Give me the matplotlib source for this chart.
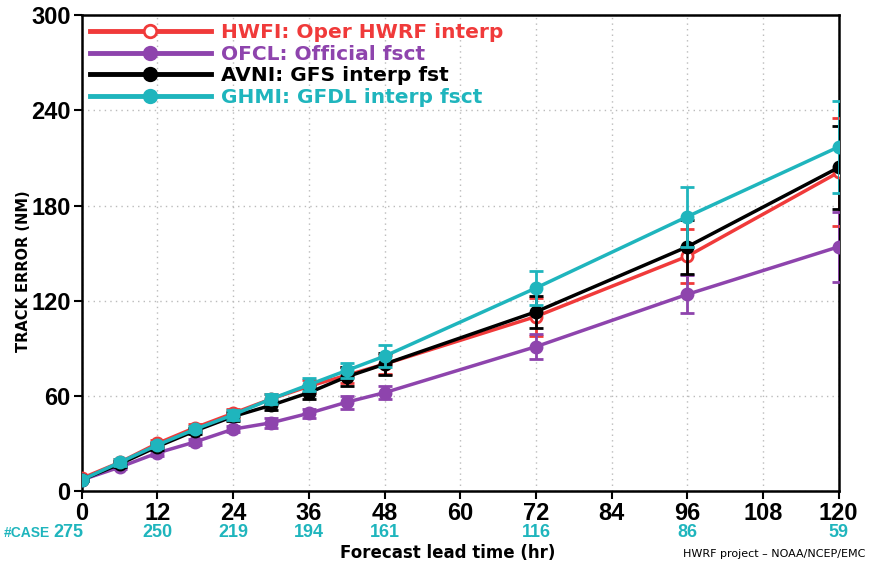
import numpy as np
from matplotlib import pyplot as plt
from matplotlib.lines import Line2D

# forecast hours and mean track errors (NM)
hours = [0, 6, 12, 18, 24, 30, 36, 42, 48, 72, 96, 120]

hwfi = [8, 18, 30, 40, 49, 58, 66, 73, 80, 110, 148, 201]
ofcl = [7, 15, 24, 31, 39, 43, 49, 56, 62, 91, 124, 154]
avni = [7, 17, 28, 38, 47, 54, 62, 72, 80, 113, 154, 204]
ghmi = [7, 18, 29, 39, 48, 58, 67, 76, 85, 128, 173, 217]

# error bar half widths
hwfi_err = [1, 2, 2, 2, 3, 3, 4, 5, 6, 12, 17, 34]
ofcl_err = [1, 1, 2, 2, 2, 3, 3, 4, 4, 8, 12, 22]
avni_err = [1, 2, 2, 2, 3, 3, 4, 6, 7, 10, 17, 26]
ghmi_err = [1, 2, 2, 2, 3, 3, 4, 5, 7, 11, 19, 29]

case_hours = [0, 12, 24, 36, 48, 72, 96, 120]
case_counts = ['275', '250', '219', '194', '161', '116', '86', '59']

labels = ['HWFI: Oper HWRF interp', 'OFCL: Official fsct',
          'AVNI: GFS interp fst', 'GHMI: GFDL interp fsct']
colors = ['#f03a3a', '#8e44ad', '#000000', '#1fb5bd']
narrow = ['Liberation Sans', 'DejaVu Sans']

fig = plt.figure(figsize=(8.7, 5.65), dpi=100)
ax = fig.add_axes([0.094, 0.131, 0.870, 0.842])

series = [(hwfi, hwfi_err), (ofcl, ofcl_err), (avni, avni_err), (ghmi, ghmi_err)]
handles = []
for i, (vals, err) in enumerate(series):
    face = 'white' if i == 0 else colors[i]
    ax.errorbar(hours, vals, yerr=err, color=colors[i], lw=2.5, marker='o',
                ms=8, mfc=face, mec=colors[i], mew=2, capsize=5, capthick=2,
                elinewidth=2, zorder=3 + i)
    handles.append(Line2D([], [], color=colors[i], lw=3.5, marker='o', ms=9,
                          mfc=face, mec=colors[i], mew=2, label=labels[i]))

ax.set_xlim(0, 120)
ax.set_ylim(0, 300)
ax.set_xticks(range(0, 121, 12))
ax.set_yticks(range(0, 301, 60))
ax.grid(True, color='#bbbbbb', linestyle=(0, (1, 3)), lw=1)
ax.tick_params(direction='out', length=6, width=1.5, labelsize=17, pad=2)
for lab in ax.get_xticklabels() + ax.get_yticklabels():
    lab.set_fontweight('bold')
    lab.set_family(narrow)
for sp in ax.spines.values():
    sp.set_linewidth(1.8)

leg = ax.legend(handles=handles, loc='upper left', frameon=False,
                handlelength=6.0, borderaxespad=0.3, borderpad=0.1,
                labelspacing=0.12, handletextpad=0.5,
                prop={'weight': 'bold', 'size': 14.5})
for txt, c in zip(leg.get_texts(), colors):
    txt.set_color(c)

# number of cases under the axis
fig.text(0.004, 0.057, '#CASE', ha='left', va='center', color=colors[3],
         fontsize=10, fontweight='bold', family=narrow)
for h, n in zip(case_hours, case_counts):
    ha = 'right' if h == 0 else 'center'
    xpos = 0.3 if h == 0 else h
    ax.text(xpos, -0.088, n, transform=ax.get_xaxis_transform(),
            ha=ha, va='center', color=colors[3], fontsize=13,
            fontweight='bold', family=narrow)

fig.text(0.515, 0.022, 'Forecast lead time (hr)', ha='center', va='center',
         fontsize=12, fontweight='bold')
fig.text(0.995, 0.02, 'HWRF project \u2013 NOAA/NCEP/EMC', ha='right', va='center',
         fontsize=8)
fig.text(0.027, 0.52, 'TRACK ERROR (NM)', rotation=90, ha='center', va='center',
         fontsize=10.5, fontweight='bold')

fig.savefig('out.png', dpi=100)
